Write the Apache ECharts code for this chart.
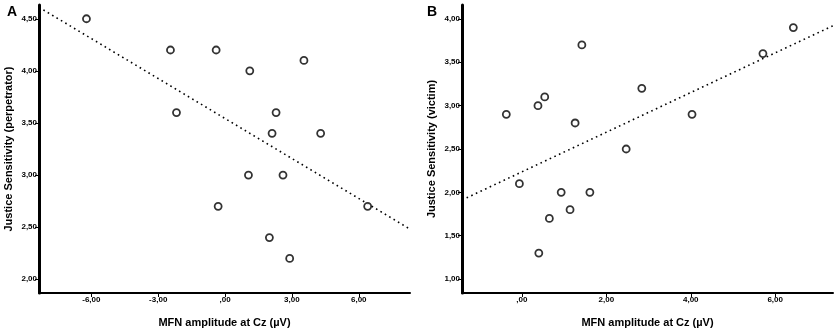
<!DOCTYPE html>
<html>
<head>
<meta charset="utf-8">
<script src="https://cdn.jsdelivr.net/npm/echarts@6/dist/echarts.min.js"></script>
<style>
  html, body { margin: 0; padding: 0; background: #fff; }
  #chart { width: 838px; height: 333px; }
</style>
</head>
<body>
<div id="chart"></div>
<script>
// panel A: perpetrator sensitivity vs MFN amplitude
const perpX = [-6.22, -2.45, -0.40, 1.11, 3.54, -2.18, 2.29, 2.11, 4.29, 1.05, 2.60, -0.31, 6.40, 1.99, 2.90];
const perpY = [4.50, 4.20, 4.20, 4.00, 4.10, 3.60, 3.60, 3.40, 3.40, 3.00, 3.00, 2.70, 2.70, 2.40, 2.20];
// panel B: victim sensitivity vs MFN amplitude
const victX = [-0.37, 0.38, 0.54, 1.26, 1.42, 2.84, 2.47, 4.03, 5.71, 6.43, -0.06, 0.93, 1.61, 1.14, 0.65, 0.40];
const victY = [2.90, 3.00, 3.10, 2.80, 3.70, 3.20, 2.50, 2.90, 3.60, 3.90, 2.10, 2.00, 2.00, 1.80, 1.70, 1.30];

const ticksAX = [-6, -3, 0, 3, 6];
const ticksAY = [2, 2.5, 3, 3.5, 4, 4.5];
const ticksBX = [0, 2, 4, 6];
const ticksBY = [1, 1.5, 2, 2.5, 3, 3.5, 4];

const xRangeA = [-8.35, 8.3];
const yRangeA = [1.868, 4.632];
const xRangeB = [-1.42, 7.37];
const yRangeB = [0.84, 4.16];

function fmt(v) {
  let s = Math.abs(v).toFixed(2).replace('.', ',');
  if (s.startsWith('0')) s = s.slice(1);
  return (v < 0 ? '-' : '') + s;
}

// least squares fit line across the whole x range
function fitLine(xs, ys, range) {
  const n = xs.length;
  const mx = xs.reduce((a, b) => a + b, 0) / n;
  const my = ys.reduce((a, b) => a + b, 0) / n;
  let sxy = 0, sxx = 0;
  for (let i = 0; i < n; i++) {
    sxy += (xs[i] - mx) * (ys[i] - my);
    sxx += (xs[i] - mx) * (xs[i] - mx);
  }
  const b = sxy / sxx;
  const a = my - b * mx;
  return range.map(x => [x, a + b * x]);
}

const tickFont = { fontFamily: 'Liberation Sans', fontWeight: 'bold', fontSize: 8, color: '#000' };
const nameFont = { fontFamily: 'Liberation Sans', fontWeight: 'bold', fontSize: 11, color: '#000' };

function xAxisCfg(idx, range, ticks) {
  return {
    type: 'value', gridIndex: idx, min: range[0], max: range[1],
    name: 'MFN amplitude at Cz (µV)', nameLocation: 'middle', nameGap: 24,
    nameTextStyle: nameFont,
    axisLine: { show: true, onZero: false, lineStyle: { color: '#000', width: 2 } },
    axisTick: { show: true, length: 4, customValues: ticks, lineStyle: { color: '#000', width: 1 } },
    axisLabel: { customValues: ticks, formatter: fmt, margin: 3, ...tickFont },
    splitLine: { show: false }
  };
}
function yAxisCfg(idx, range, ticks, name) {
  return {
    type: 'value', gridIndex: idx, min: range[0], max: range[1],
    name: name, nameLocation: 'middle', nameGap: 25,
    nameTextStyle: nameFont,
    axisLine: { show: true, onZero: false, lineStyle: { color: '#000', width: 3 } },
    axisTick: { show: true, length: 4, customValues: ticks, lineStyle: { color: '#000', width: 1 } },
    axisLabel: { customValues: ticks, formatter: fmt, margin: 2, ...tickFont },
    splitLine: { show: false }
  };
}

function scatter(idx, xs, ys) {
  return {
    type: 'scatter', xAxisIndex: idx, yAxisIndex: idx,
    data: xs.map((x, i) => [x, ys[i]]),
    symbol: 'circle', symbolSize: 7,
    itemStyle: { color: '#fff', borderColor: '#000', borderWidth: 1.8 },
    z: 3
  };
}
function fit(idx, xs, ys, range) {
  return {
    type: 'line', xAxisIndex: idx, yAxisIndex: idx,
    data: fitLine(xs, ys, range), showSymbol: false, symbol: 'none',
    lineStyle: { color: '#000', width: 1.6, type: [1.6, 3.5] },
    z: 2
  };
}

const chart = echarts.init(document.getElementById('chart'));
chart.setOption({
  animation: false,
  backgroundColor: '#fff',
  title: [
    { text: 'A', left: 2, top: 0, textStyle: { fontFamily: 'Liberation Sans', fontWeight: 'bold', fontSize: 14, color: '#000' } },
    { text: 'B', left: 422, top: 0, textStyle: { fontFamily: 'Liberation Sans', fontWeight: 'bold', fontSize: 14, color: '#000' } }
  ],
  grid: [
    { left: 39, right: 428, top: 5, bottom: 35 },
    { left: 462, right: 5, top: 5, bottom: 35 }
  ],
  xAxis: [xAxisCfg(0, xRangeA, ticksAX), xAxisCfg(1, xRangeB, ticksBX)],
  yAxis: [
    yAxisCfg(0, yRangeA, ticksAY, 'Justice Sensitivity (perpetrator)'),
    yAxisCfg(1, yRangeB, ticksBY, 'Justice Sensitivity (victim)')
  ],
  series: [
    fit(0, perpX, perpY, xRangeA),
    scatter(0, perpX, perpY),
    fit(1, victX, victY, xRangeB),
    scatter(1, victX, victY)
  ]
});
</script>
</body>
</html>
